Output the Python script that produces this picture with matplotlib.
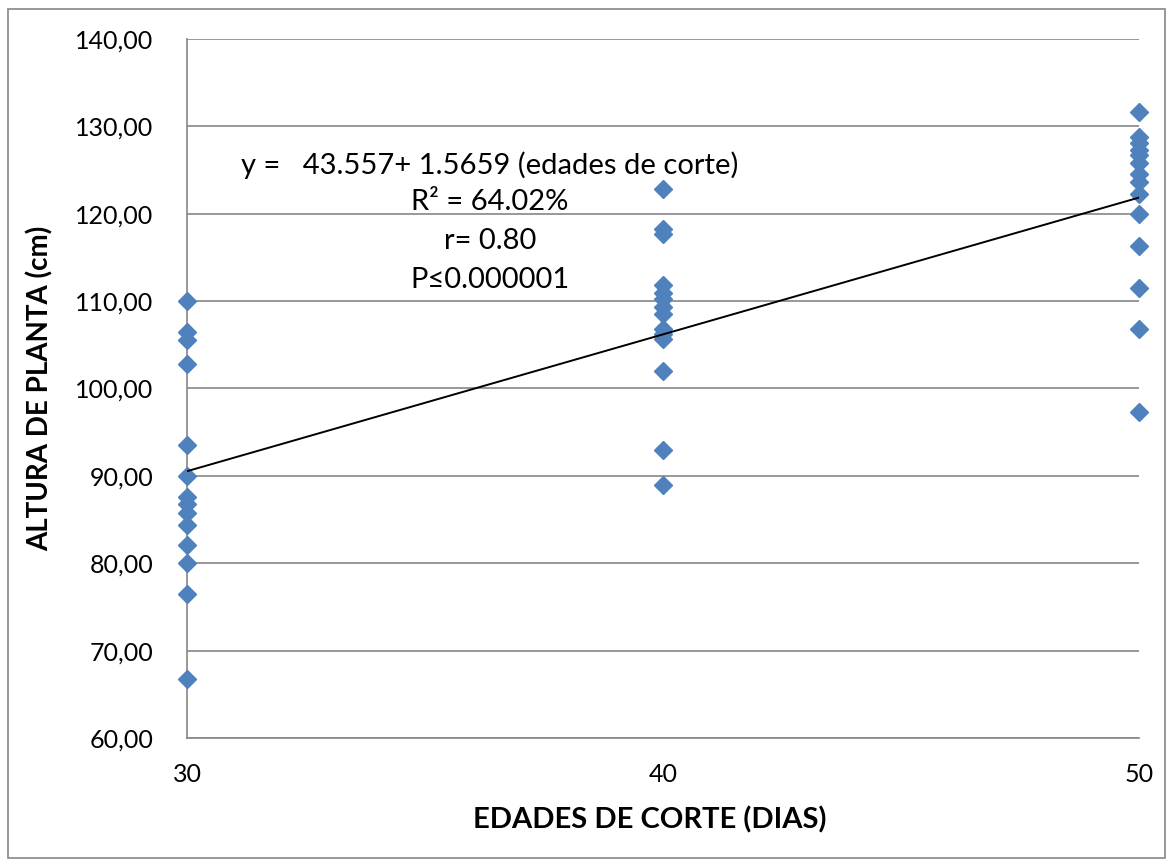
import matplotlib
matplotlib.use("Agg")
import matplotlib.pyplot as plt
from matplotlib.patches import Rectangle
import numpy as np

plt.rcParams['font.family'] = ['Lato', 'DejaVu Sans']

age_30 = [110.0, 106.5, 105.5, 102.8, 93.5, 90.0, 87.6, 86.8, 85.7, 84.4, 82.1, 80.0, 76.5, 66.7]
age_40 = [122.8, 118.2, 117.7, 111.8, 110.9, 110.3, 109.3, 108.5, 106.8, 106.2, 105.7, 102.0, 93.0, 89.0]
age_50 = [131.7, 128.8, 128.1, 127.3, 126.7, 125.8, 124.5, 123.6, 122.3, 120.0, 116.3, 111.5, 106.8, 97.3]
ages = [30, 40, 50]
intercept = 43.557
slope = 1.5659
y_ticks = [60, 70, 80, 90, 100, 110, 120, 130, 140]
x_ticks = [30, 40, 50]

fig = plt.figure(figsize=(11.71, 8.63), dpi=100)
ax = fig.add_axes([187/1171, 1 - 738/863, (1139-187)/1171, (738-39)/863])

fig.patches.append(Rectangle((8/1171, 1 - 858/863), (1165-8)/1171, (858-9)/863,
                             transform=fig.transFigure, fill=False, edgecolor='#868686', lw=1.2))

for yt in y_ticks:
    ax.axhline(yt, color='#868686', lw=1.2, zorder=0)

color = '#4F81BD'
for a, vals in zip(ages, [age_30, age_40, age_50]):
    ax.plot([a]*len(vals), vals, linestyle='none', marker='D', ms=9, color=color, zorder=3, clip_on=False)

xs = np.array([30, 50])
ax.plot(xs, intercept + slope*xs, color='black', lw=1.4, zorder=4)

ax.set_xlim(30, 50)
ax.set_ylim(60, 140)
ax.set_yticks(y_ticks)
ax.set_yticklabels([f"{v:.2f}".replace('.', ',') for v in y_ticks], fontsize=18)
ax.set_xticks(x_ticks)
ax.set_xticklabels([str(v) for v in x_ticks], fontsize=18)
ax.tick_params(axis='y', length=0, pad=24)
ax.tick_params(axis='x', length=0, pad=18)
for s in ['top', 'right']:
    ax.spines[s].set_visible(False)
for s in ['left', 'bottom']:
    ax.spines[s].set_color('#868686')
    ax.spines[s].set_linewidth(1.2)

ax.set_xlabel('EDADES DE CORTE (DIAS)', fontsize=21, fontweight='bold')
ax.set_ylabel('ALTURA DE PLANTA (cm)', fontsize=20, fontweight='bold')
ax.xaxis.set_label_coords((650-187)/(1139-187), -(820-738)/(738-39))
ax.yaxis.set_label_coords(-(187-40)/(1139-187), 0.5)
ax.xaxis.label.set_va('center')
ax.yaxis.label.set_va('center')

tx = (490-187)/(1139-187)
lines = ['y =   43.557+ 1.5659 (edades de corte)', 'R² = 64.02%', 'r= 0.80', 'P≤0.000001']
ys = [165, 202, 241, 280]
for t, yp in zip(lines, ys):
    ax.text(tx, 1 - (yp-39)/(738-39), t, transform=ax.transAxes, ha='center', va='center', fontsize=21)

fig.savefig('out.png', dpi=100)
